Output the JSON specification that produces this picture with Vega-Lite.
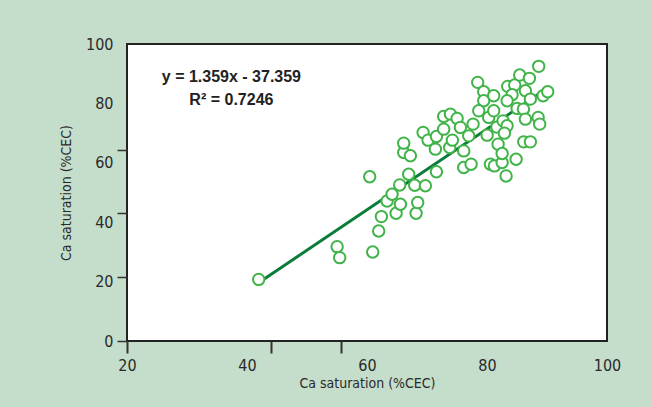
{
  "$schema": "https://vega.github.io/schema/vega-lite/v6.json",
  "width": 480,
  "height": 297,
  "autosize": {"type": "none"},
  "padding": {"left": 127, "top": 44, "right": 44, "bottom": 66},
  "background": "#c5ddcb",
  "config": {
    "view": {"fill": "white", "stroke": "#222222", "strokeWidth": 2},
    "axis": {"grid": false, "domain": false, "labelColor": "#2a2a2a", "titleColor": "#2a2a2a", "tickColor": "#333333", "labelFont": "DejaVu Sans Condensed, Liberation Sans, sans-serif", "titleFont": "DejaVu Sans Condensed, Liberation Sans, sans-serif", "labelFontSize": 16, "titleFontSize": 14, "titleFontWeight": "normal", "labelFlush": false}
  },
  "datasets": {
    "pts": [
      {"x": 41.95, "y": 20.74}, {"x": 55.02, "y": 31.77}, {"x": 55.45, "y": 28.06}, {"x": 60.45, "y": 55.31},
      {"x": 60.95, "y": 29.95}, {"x": 61.95, "y": 37.03}, {"x": 62.4, "y": 41.89}, {"x": 63.35, "y": 47.15},
      {"x": 64.18, "y": 49.41}, {"x": 64.85, "y": 43.0}, {"x": 65.57, "y": 46.04}, {"x": 65.45, "y": 52.55},
      {"x": 66.95, "y": 56.16}, {"x": 67.95, "y": 52.45}, {"x": 69.73, "y": 52.28}, {"x": 68.18, "y": 43.0},
      {"x": 68.45, "y": 46.61}, {"x": 71.57, "y": 57.0}, {"x": 66.12, "y": 63.47}, {"x": 67.23, "y": 62.39},
      {"x": 66.12, "y": 66.61}, {"x": 69.35, "y": 70.22}, {"x": 70.18, "y": 67.62}, {"x": 71.57, "y": 68.87},
      {"x": 71.4, "y": 64.59}, {"x": 73.78, "y": 65.16}, {"x": 74.23, "y": 67.62}, {"x": 72.78, "y": 71.33},
      {"x": 72.78, "y": 75.62}, {"x": 73.9, "y": 76.39}, {"x": 75.02, "y": 74.94}, {"x": 75.57, "y": 71.91},
      {"x": 76.12, "y": 64.01}, {"x": 76.95, "y": 69.07}, {"x": 77.68, "y": 73.02}, {"x": 76.12, "y": 58.41},
      {"x": 77.35, "y": 59.53}, {"x": 78.45, "y": 87.08}, {"x": 79.45, "y": 83.91}, {"x": 79.45, "y": 80.88},
      {"x": 78.62, "y": 77.5}, {"x": 80.02, "y": 69.31}, {"x": 80.28, "y": 75.28}, {"x": 81.12, "y": 82.56},
      {"x": 81.12, "y": 77.5}, {"x": 81.65, "y": 72.01}, {"x": 81.85, "y": 66.27}, {"x": 80.57, "y": 59.53},
      {"x": 81.23, "y": 58.95}, {"x": 82.52, "y": 60.1}, {"x": 82.52, "y": 63.14}, {"x": 83.18, "y": 55.58},
      {"x": 84.85, "y": 61.21}, {"x": 83.45, "y": 85.73}, {"x": 84.62, "y": 86.17}, {"x": 84.18, "y": 82.9},
      {"x": 83.35, "y": 80.88}, {"x": 85.02, "y": 78.31}, {"x": 86.07, "y": 78.08}, {"x": 85.45, "y": 89.54},
      {"x": 86.4, "y": 84.25}, {"x": 87.07, "y": 88.43}, {"x": 87.23, "y": 81.45}, {"x": 86.4, "y": 74.7},
      {"x": 86.12, "y": 67.05}, {"x": 87.23, "y": 67.05}, {"x": 88.62, "y": 92.48}, {"x": 88.52, "y": 75.28},
      {"x": 88.78, "y": 73.02}, {"x": 89.35, "y": 82.56}, {"x": 90.12, "y": 83.91}, {"x": 82.68, "y": 74.13},
      {"x": 83.35, "y": 72.45}, {"x": 82.9, "y": 69.98}
    ],
    "fit": [{"x": 42, "y": 19.7}, {"x": 90, "y": 85}],
    "eq": [
      {"x": 37.4, "y": 88.9, "label": "y = 1.359x - 37.359"},
      {"x": 37.4, "y": 81.1, "label": "R² = 0.7246"}
    ]
  },
  "layer": [
    {
      "data": {"name": "fit"},
      "mark": {"type": "line", "color": "#0b7d3b", "strokeWidth": 3},
      "encoding": {
        "x": {"field": "x", "type": "quantitative", "scale": {"domain": [20, 100], "nice": false, "zero": false},
              "axis": {"orient": "bottom", "values": [20, 44, 55.7], "labels": false, "title": null, "tickSize": 12, "tickWidth": 2}},
        "y": {"field": "y", "type": "quantitative", "scale": {"domain": [0, 100], "nice": false},
              "axis": {"orient": "left", "values": [0, 21.5, 43.1, 64.3], "labels": false, "title": null, "tickSize": 10, "tickWidth": 1.5}}
      }
    },
    {
      "data": {"name": "pts"},
      "mark": {"type": "circle", "size": 130, "fill": "white", "stroke": "#40b449", "strokeWidth": 2, "opacity": 1, "fillOpacity": 1},
      "encoding": {
        "x": {"field": "x", "type": "quantitative",
              "axis": {"orient": "bottom", "values": [20, 40, 60, 80, 100], "ticks": false, "labelPadding": 16, "title": "Ca saturation (%CEC)", "titlePadding": 3}},
        "y": {"field": "y", "type": "quantitative",
              "axis": {"orient": "left", "values": [0, 20, 40, 60, 80, 100], "ticks": false, "labelPadding": 14, "title": "Ca saturation (%CEC)", "titlePadding": 12}}
      }
    },
    {
      "data": {"name": "eq"},
      "mark": {"type": "text", "font": "Liberation Sans", "fontWeight": "bold", "fontSize": 16, "color": "#222222", "align": "center", "baseline": "middle"},
      "encoding": {
        "x": {"field": "x", "type": "quantitative", "axis": null},
        "y": {"field": "y", "type": "quantitative", "axis": null},
        "text": {"field": "label"}
      }
    }
  ],
  "resolve": {"axis": {"x": "independent", "y": "independent"}}
}
